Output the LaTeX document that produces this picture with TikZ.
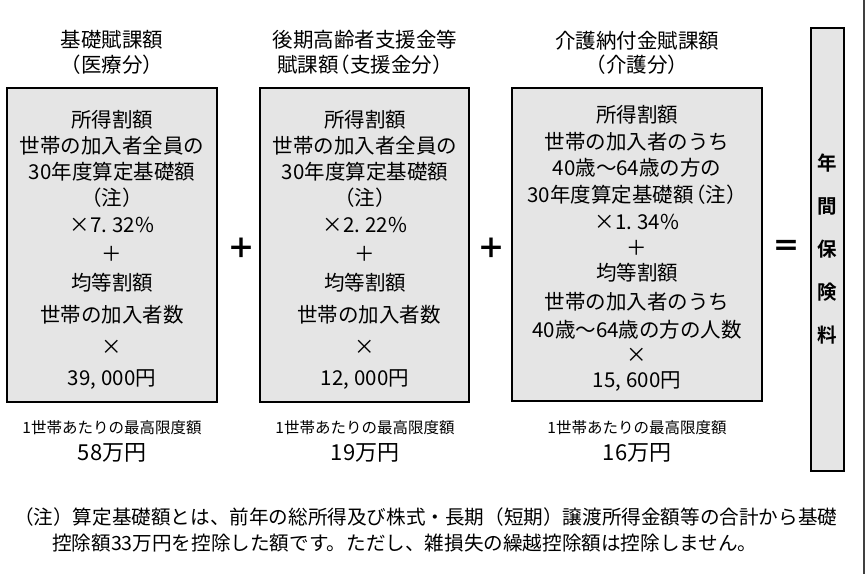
\documentclass[tikz,border=0pt]{standalone}
\usepackage{fontspec}
\setmainfont{Noto Sans CJK JP}[BoldFont={Noto Sans CJK JP Bold}]
\newfontfamily\opfont{Noto Sans CJK JP Black}
\usetikzlibrary{positioning}

\tikzset{
  kbox/.style={draw=black, line width=2pt, fill=black!10, inner sep=0pt},
  txt/.style={font=\fontsize{20.5}{24}\selectfont, inner sep=0pt},
  small/.style={font=\fontsize{15.5}{18}\selectfont, inner sep=0pt},
  gen/.style={font=\fontsize{22}{26}\selectfont, inner sep=0pt},
  note/.style={font=\fontsize{19.6}{24}\selectfont, inner sep=0pt, anchor=west},
  op/.style={font=\fontsize{28}{30}\selectfont\opfont, inner sep=0pt},
  ttl/.style={font=\fontsize{19.5}{22}\selectfont\bfseries, inner sep=0pt}
}
\newcommand\kn{\hspace{-0.42em}}

\begin{document}
\begin{tikzpicture}[x=1pt,y=-1pt]
\useasboundingbox (0,0) rectangle (868,574);

% right edge
\draw[line width=1.5pt, black!75] (864,0) -- (864,574);

% boxes
\node[kbox, minimum width=210pt, minimum height=314pt] (iryo) at (112,245) {};
\node[kbox, minimum width=209pt, minimum height=314pt] (shien) at (364.5,245) {};
\node[kbox, minimum width=250pt, minimum height=313pt] (kaigo) at (637,244.5) {};
\node[kbox, minimum width=33pt, minimum height=443pt] (nenkan) at (827.5,249.5) {};

% headers
\draw (112,40) node[txt] (h1a) {基礎賦課額}
      (112,65) node[txt] (h1b) {（医療分）}
      (365,40) node[txt] (h2a) {後期高齢者支援金等}
      (365,65) node[txt] (h2b) {賦課額\kn（支援金分）}
      (637,41) node[txt] (h3a) {介護納付金賦課額}
      (637,65) node[txt] (h3b) {（介護分）};

% medical part
\draw (112,120) node[txt] (a1) {所得割額}
      (112,146) node[txt] (a2) {世帯の加入者全員の}
      (112,172) node[txt] (a3) {30年度算定基礎額}
      (112,198) node[txt] (a4) {（注）}
      (112,225) node[txt] (a5) {×7.\hspace{0.25em}32\%}
      (112,254) node[txt] (a6) {＋}
      (112,283) node[txt] (a7) {均等割額}
      (112,315) node[txt] (a8) {世帯の加入者数}
      (112,347) node[txt] (a9) {×}
      (112,380) node[txt] (a10) {39,\hspace{0.25em}000円};

% support part
\draw (365,120) node[txt] (b1) {所得割額}
      (365,146) node[txt] (b2) {世帯の加入者全員の}
      (365,172) node[txt] (b3) {30年度算定基礎額}
      (365,198) node[txt] (b4) {（注）}
      (365,225) node[txt] (b5) {×2.\hspace{0.25em}22\%}
      (365,254) node[txt] (b6) {＋}
      (365,283) node[txt] (b7) {均等割額}
      (369,315) node[txt] (b8) {世帯の加入者数}
      (365,347) node[txt] (b9) {×}
      (365,380) node[txt] (b10) {12,\hspace{0.25em}000円};

% care part
\draw (637,115) node[txt] (c1) {所得割額}
      (637,142) node[txt] (c2) {世帯の加入者のうち}
      (637,168) node[txt] (c3) {40歳～64歳の方の}
      (637,195) node[txt] (c4) {30年度算定基礎額\kn（注）}
      (637,222) node[txt] (c5) {×1.\hspace{0.25em}34\%}
      (637,248) node[txt] (c6) {＋}
      (637,273) node[txt] (c7) {均等割額}
      (637,302) node[txt] (c8) {世帯の加入者のうち}
      (637,330) node[txt] (c9) {40歳～64歳の方の人数}
      (637,355) node[txt] (c10) {×}
      (637,382) node[txt] (c11) {15,\hspace{0.25em}600円};

% operators
\node[op] (plus1) at (241,248) {＋};
\node[op] (plus2) at (491,248) {＋};
\node[op] (eq) at (786,248) {＝};

% annual premium
\foreach \c [count=\i] in {年,間,保,険,料}
  \node[ttl] (n\i) at (827.5,{163+43*(\i-1)}) {\c};

% upper limits
\draw (112,428) node[small] (m1) {1世帯あたりの最高限度額}
      (112,453) node[gen] (g1) {58万円}
      (365,428) node[small] (m2) {1世帯あたりの最高限度額}
      (365,453) node[gen] (g2) {19万円}
      (637,428) node[small] (m3) {1世帯あたりの最高限度額}
      (637,453) node[gen] (g3) {16万円};

% note
\node[note] (note1) at (14,517) {（注）算定基礎額とは、前年の総所得及び株式・長期（短期）譲渡所得金額等の合計から基礎};
\node[note] (note2) at (52,543) {控除額33万円を控除した額です。ただし、雑損失の繰越控除額は控除しません。};

\end{tikzpicture}
\end{document}
